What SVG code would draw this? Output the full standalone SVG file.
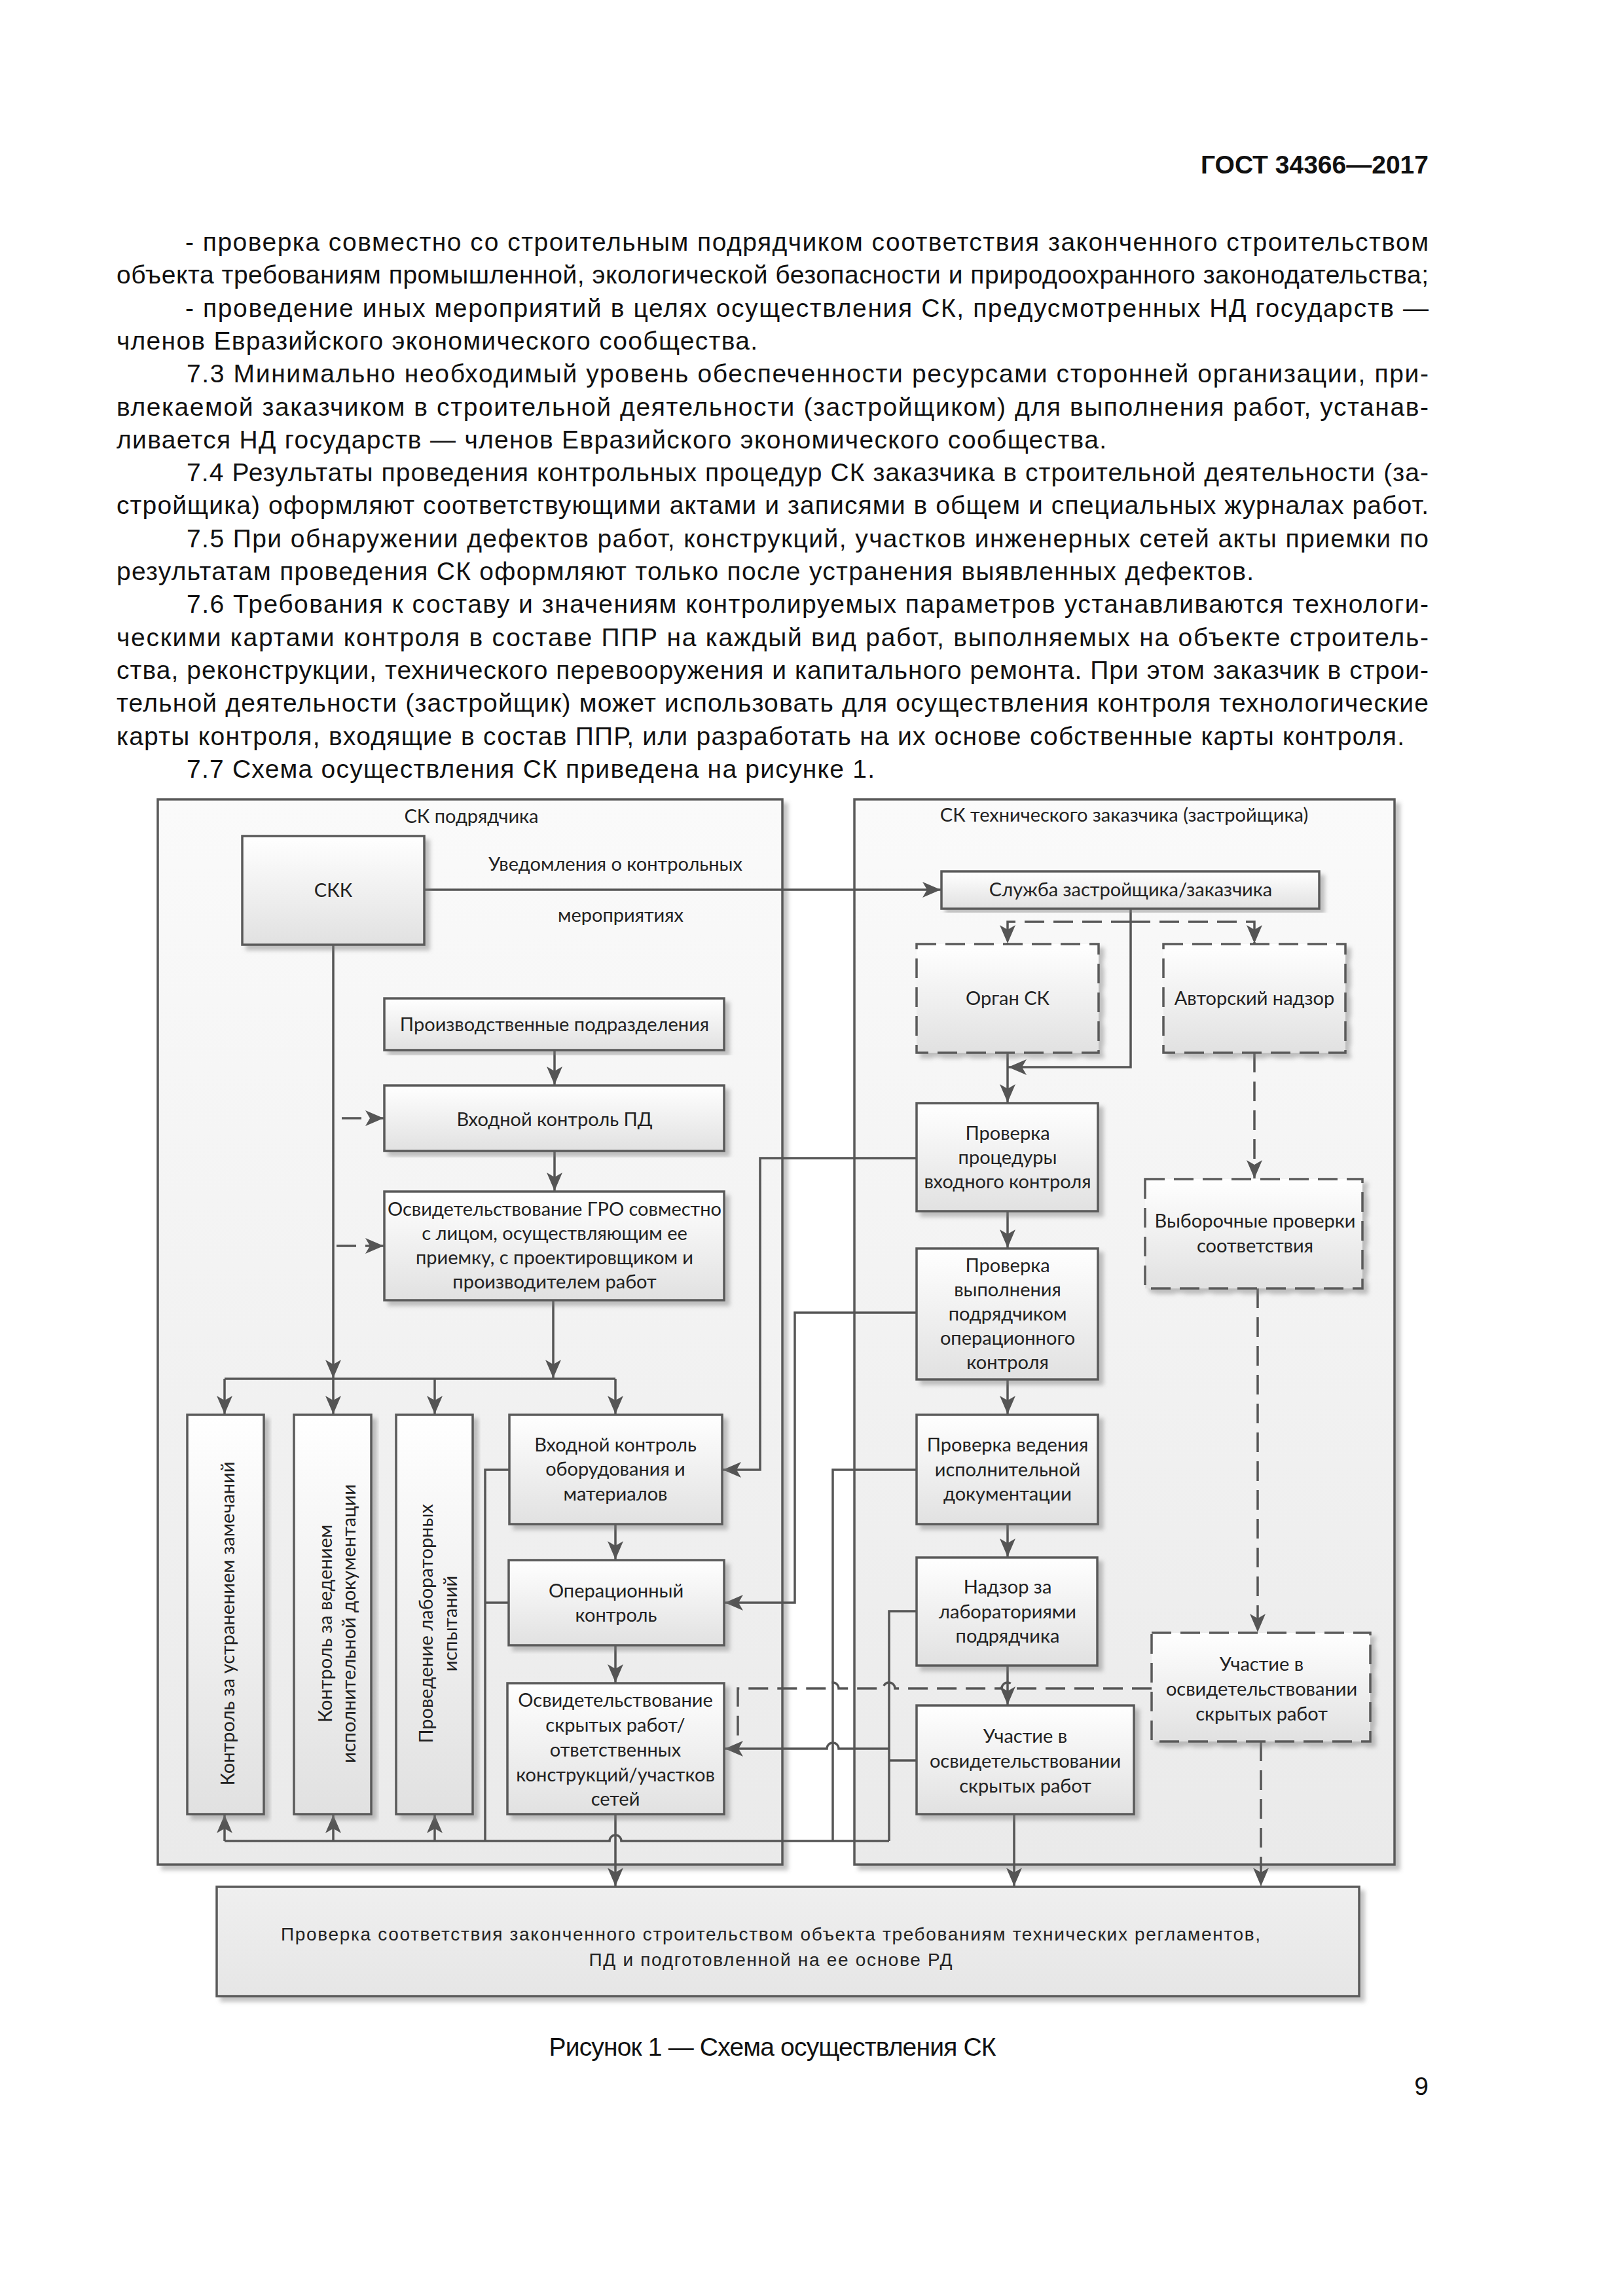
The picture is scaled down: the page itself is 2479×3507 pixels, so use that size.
<svg xmlns="http://www.w3.org/2000/svg" width="2479" height="3507" viewBox="0 0 2479 3507">
<defs>
<linearGradient id="gNode" x1="0" y1="0" x2="0" y2="1"><stop offset="0" stop-color="#ffffff"/><stop offset="1" stop-color="#e1e1e1"/></linearGradient>
<linearGradient id="gCont" x1="0" y1="0" x2="0" y2="1"><stop offset="0" stop-color="#fafafa"/><stop offset="1" stop-color="#eaeaea"/></linearGradient>
<linearGradient id="gBot" x1="0" y1="0" x2="0" y2="1"><stop offset="0" stop-color="#efefef"/><stop offset="1" stop-color="#e6e6e6"/></linearGradient>
<filter id="sh" x="-5%" y="-5%" width="115%" height="115%"><feDropShadow dx="7" dy="7" stdDeviation="3" flood-color="#7a7a7a" flood-opacity="0.45"/></filter>
<marker id="ah" viewBox="-30 -13 31 26" markerWidth="31" markerHeight="26" refX="0" refY="0" markerUnits="userSpaceOnUse" orient="auto">
<path d="M0,0 L-28,-12 L-21,0 L-28,12 Z" fill="#555"/>
</marker>
</defs>
<style>
.cont{fill:url(#gCont);stroke:#5a5a5a;stroke-width:3.5;filter:url(#sh)}
.box{fill:url(#gNode);stroke:#5a5a5a;stroke-width:3.5;filter:url(#sh)}
.dbox{fill:url(#gNode);stroke:#5a5a5a;stroke-width:3.5;stroke-dasharray:30 14;filter:url(#sh)}
.bot{fill:url(#gBot);stroke:#5a5a5a;stroke-width:3.5;filter:url(#sh)}
.ln{fill:none;stroke:#555;stroke-width:3.5}
.dl{fill:none;stroke:#555;stroke-width:3.5;stroke-dasharray:30 14}
.arr{marker-end:url(#ah)}
.t{font-family:Lato,"Open Sans","Noto Sans",sans-serif;font-size:29px;fill:#222;text-anchor:middle}
.body{font-family:"Liberation Sans",Arial,sans-serif;font-size:39px;fill:#111}
.bt{font-family:"Liberation Sans",Arial,sans-serif;font-size:28px;fill:#222;text-anchor:middle}
</style>
<rect width="2479" height="3507" fill="#ffffff"/>

<g id="page-text">
<text class="body" x="2182" y="265" font-weight="bold" font-size="40" text-anchor="end">ГОСТ 34366—2017</text>
<text class="body" x="283" y="383" textLength="1899" lengthAdjust="spacing">- проверка совместно со строительным подрядчиком соответствия законченного строительством</text>
<text class="body" x="178" y="433" textLength="2004" lengthAdjust="spacing">объекта требованиям промышленной, экологической безопасности и природоохранного законодательства;</text>
<text class="body" x="283" y="484" textLength="1899" lengthAdjust="spacing">- проведение иных мероприятий в целях осуществления СК, предусмотренных НД государств —</text>
<text class="body" x="178" y="534" textLength="979" lengthAdjust="spacing">членов Евразийского экономического сообщества.</text>
<text class="body" x="285" y="584" textLength="1897" lengthAdjust="spacing">7.3 Минимально необходимый уровень обеспеченности ресурсами сторонней организации, при-</text>
<text class="body" x="178" y="635" textLength="2004" lengthAdjust="spacing">влекаемой заказчиком в строительной деятельности (застройщиком) для выполнения работ, устанав-</text>
<text class="body" x="178" y="685" textLength="1512" lengthAdjust="spacing">ливается НД государств — членов Евразийского экономического сообщества.</text>
<text class="body" x="285" y="735" textLength="1897" lengthAdjust="spacing">7.4 Результаты проведения контрольных процедур СК заказчика в строительной деятельности (за-</text>
<text class="body" x="178" y="785" textLength="2004" lengthAdjust="spacing">стройщика) оформляют соответствующими актами и записями в общем и специальных журналах работ.</text>
<text class="body" x="285" y="836" textLength="1897" lengthAdjust="spacing">7.5 При обнаружении дефектов работ, конструкций, участков инженерных сетей акты приемки по</text>
<text class="body" x="178" y="886" textLength="1737" lengthAdjust="spacing">результатам проведения СК оформляют только после устранения выявленных дефектов.</text>
<text class="body" x="285" y="936" textLength="1897" lengthAdjust="spacing">7.6 Требования к составу и значениям контролируемых параметров устанавливаются технологи-</text>
<text class="body" x="178" y="987" textLength="2004" lengthAdjust="spacing">ческими картами контроля в составе ППР на каждый вид работ, выполняемых на объекте строитель-</text>
<text class="body" x="178" y="1037" textLength="2004" lengthAdjust="spacing">ства, реконструкции, технического перевооружения и капитального ремонта. При этом заказчик в строи-</text>
<text class="body" x="178" y="1087" textLength="2004" lengthAdjust="spacing">тельной деятельности (застройщик) может использовать для осуществления контроля технологические</text>
<text class="body" x="178" y="1138" textLength="1967" lengthAdjust="spacing">карты контроля, входящие в состав ППР, или разработать на их основе собственные карты контроля.</text>
<text class="body" x="285" y="1188" textLength="1051" lengthAdjust="spacing">7.7 Схема осуществления СК приведена на рисунке 1.</text>
</g>

<g id="container-contractor">
<rect class="cont" x="241" y="1221" width="954" height="1627"/>
<text class="t" x="720" y="1257">СК подрядчика</text>
</g>
<g id="container-customer">
<rect class="cont" x="1305" y="1221" width="825" height="1627"/>
<text class="t" x="1717" y="1255">СК технического заказчика (застройщика)</text>
</g>

<g id="connectors">
<path class="ln arr" d="M648,1359 H1437"/>
<text class="t" x="940" y="1330">Уведомления о контрольных</text>
<text class="t" x="948" y="1408">мероприятиях</text>
<path class="ln arr" d="M509,1443 V2105"/>
<path class="dl arr" d="M522,1708 H586"/>
<path class="dl arr" d="M514,1903 H586"/>
<path class="ln arr" d="M847,1604 V1657"/>
<path class="ln arr" d="M847,1758 V1819"/>
<path class="ln arr" d="M845,1986 V2105"/>
<path class="ln" d="M343,2106 H940"/>
<path class="ln arr" d="M343,2106 V2160"/>
<path class="ln arr" d="M509,2106 V2160"/>
<path class="ln arr" d="M664,2106 V2160"/>
<path class="ln arr" d="M940,2106 V2160"/>
<path class="ln" d="M343,2812 H931 A9,9 0 0 1 949,2812 H1358"/>
<path class="ln arr" d="M343,2812 V2772"/>
<path class="ln arr" d="M509,2812 V2772"/>
<path class="ln arr" d="M664,2812 V2772"/>
<path class="ln" d="M778,2245 H741 V2812"/>
<path class="ln" d="M777,2448 H741"/>
<path class="ln arr" d="M940,2328 V2382"/>
<path class="ln arr" d="M940,2513 V2570"/>
<path class="ln arr" d="M940,2771 V2881"/>
<path class="ln arr" d="M1727,1388 V1630 H1540"/>
<path class="dl arr" d="M1727,1408 H1539 V1441"/>
<path class="dl arr" d="M1727,1408 H1916 V1441"/>
<path class="ln arr" d="M1539,1608 V1684"/>
<path class="dl arr" d="M1916,1608 V1800"/>
<path class="ln arr" d="M1400,1769 H1161 V2245 H1104"/>
<path class="ln arr" d="M1539,1850 V1906"/>
<path class="ln arr" d="M1400,2005 H1214 V2448 H1107"/>
<path class="ln arr" d="M1539,2107 V2160"/>
<path class="ln" d="M1400,2245 H1272 V2812"/>
<path class="ln arr" d="M1539,2328 V2378"/>
<path class="ln" d="M1400,2461 H1358 V2812"/>
<path class="ln arr" d="M1358,2671 H1281 A9,9 0 0 0 1263,2671 H1107"/>
<path class="ln" d="M1400,2689 H1358"/>
<path class="ln arr" d="M1539,2544 V2604"/>
<path class="dl arr" d="M1921,1968 V2493"/>
<path class="dl" d="M1759,2579 H1548 A9,9 0 0 0 1530,2579 H1367 A9,9 0 0 0 1349,2579 H1281 A9,9 0 0 0 1263,2579 H1127 V2671"/>
<path class="ln arr" d="M1549,2771 V2881"/>
<path class="dl arr" d="M1926,2660 V2881"/>
</g>

<g id="node-skk">
<rect class="box" x="370" y="1277" width="278" height="166"/>
<text class="t" x="509" y="1370">СКК</text>
</g>
<g id="node-proizv">
<rect class="box" x="587" y="1525" width="519" height="79"/>
<text class="t" x="847" y="1575">Производственные подразделения</text>
</g>
<g id="node-vhod-pd">
<rect class="box" x="587" y="1658" width="519" height="100"/>
<text class="t" x="847" y="1720">Входной контроль ПД</text>
</g>
<g id="node-gro">
<rect class="box" x="587" y="1820" width="519" height="166"/>
<text class="t" x="847" y="1857">Освидетельствование ГРО совместно</text>
<text class="t" x="847" y="1894">с лицом, осуществляющим ее</text>
<text class="t" x="847" y="1931">приемку, с проектировщиком и</text>
<text class="t" x="847" y="1968">производителем работ</text>
</g>
<g id="node-ustr">
<rect class="box" x="286" y="2161" width="117" height="610"/>
<text class="t" transform="translate(358,2480) rotate(-90)">Контроль за устранением замечаний</text>
</g>
<g id="node-ispdoc">
<rect class="box" x="449" y="2161" width="118" height="610"/>
<text class="t" transform="translate(507,2480) rotate(-90)">Контроль за ведением</text>
<text class="t" transform="translate(543,2480) rotate(-90)">исполнительной документации</text>
</g>
<g id="node-lab">
<rect class="box" x="605" y="2161" width="117" height="610"/>
<text class="t" transform="translate(661,2480) rotate(-90)">Проведение лабораторных</text>
<text class="t" transform="translate(698,2480) rotate(-90)">испытаний</text>
</g>
<g id="node-vhod-obor">
<rect class="box" x="778" y="2161" width="325" height="167"/>
<text class="t" x="940" y="2217">Входной контроль</text>
<text class="t" x="940" y="2254">оборудования и</text>
<text class="t" x="940" y="2292">материалов</text>
</g>
<g id="node-oper">
<rect class="box" x="777" y="2383" width="329" height="130"/>
<text class="t" x="941" y="2440">Операционный</text>
<text class="t" x="941" y="2477">контроль</text>
</g>
<g id="node-skryt">
<rect class="box" x="775" y="2571" width="331" height="200"/>
<text class="t" x="940" y="2607">Освидетельствование</text>
<text class="t" x="940" y="2645">скрытых работ/</text>
<text class="t" x="940" y="2683">ответственных</text>
<text class="t" x="940" y="2721">конструкций/участков</text>
<text class="t" x="940" y="2758">сетей</text>
</g>

<g id="node-sluzhba">
<rect class="box" x="1438" y="1331" width="577" height="57"/>
<text class="t" x="1727" y="1369">Служба застройщика/заказчика</text>
</g>
<g id="node-organ">
<rect class="dbox" x="1400" y="1442" width="278" height="166"/>
<text class="t" x="1539" y="1535">Орган СК</text>
</g>
<g id="node-avtor">
<rect class="dbox" x="1777" y="1442" width="278" height="166"/>
<text class="t" x="1916" y="1535">Авторский надзор</text>
</g>
<g id="node-pr-vhod">
<rect class="box" x="1400" y="1685" width="277" height="165"/>
<text class="t" x="1539" y="1741">Проверка</text>
<text class="t" x="1539" y="1778">процедуры</text>
<text class="t" x="1539" y="1815">входного контроля</text>
</g>
<g id="node-pr-oper">
<rect class="box" x="1400" y="1907" width="277" height="200"/>
<text class="t" x="1539" y="1943">Проверка</text>
<text class="t" x="1539" y="1980">выполнения</text>
<text class="t" x="1539" y="2017">подрядчиком</text>
<text class="t" x="1539" y="2054">операционного</text>
<text class="t" x="1539" y="2091">контроля</text>
</g>
<g id="node-pr-doc">
<rect class="box" x="1400" y="2161" width="277" height="167"/>
<text class="t" x="1539" y="2217">Проверка ведения</text>
<text class="t" x="1539" y="2255">исполнительной</text>
<text class="t" x="1539" y="2292">документации</text>
</g>
<g id="node-nadzor">
<rect class="box" x="1400" y="2379" width="276" height="165"/>
<text class="t" x="1539" y="2434">Надзор за</text>
<text class="t" x="1539" y="2472">лабораториями</text>
<text class="t" x="1539" y="2509">подрядчика</text>
</g>
<g id="node-uchastie">
<rect class="box" x="1400" y="2605" width="332" height="166"/>
<text class="t" x="1566" y="2662">Участие в</text>
<text class="t" x="1566" y="2700">освидетельствовании</text>
<text class="t" x="1566" y="2738">скрытых работ</text>
</g>
<g id="node-vyborochnye">
<rect class="dbox" x="1749" y="1801" width="332" height="167"/>
<text class="t" x="1917" y="1875">Выборочные проверки</text>
<text class="t" x="1917" y="1913">соответствия</text>
</g>
<g id="node-uchastie-avtor">
<rect class="dbox" x="1759" y="2494" width="334" height="166"/>
<text class="t" x="1927" y="2552">Участие в</text>
<text class="t" x="1927" y="2590">освидетельствовании</text>
<text class="t" x="1927" y="2628">скрытых работ</text>
</g>

<g id="node-final">
<rect class="bot" x="331" y="2882" width="1745" height="167"/>
<text class="bt" x="1177" y="2964" textLength="1496" lengthAdjust="spacing">Проверка соответствия законченного строительством объекта требованиям технических регламентов,</text>
<text class="bt" x="1177" y="3003" textLength="555" lengthAdjust="spacing">ПД и подготовленной на ее основе РД</text>
</g>

<g id="caption">
<text class="body" x="1180" y="3140" font-size="36" text-anchor="middle" textLength="683" lengthAdjust="spacing">Рисунок 1 — Схема осуществления СК</text>
<text class="body" x="2182" y="3200" font-size="36" text-anchor="end">9</text>
</g>
</svg>
